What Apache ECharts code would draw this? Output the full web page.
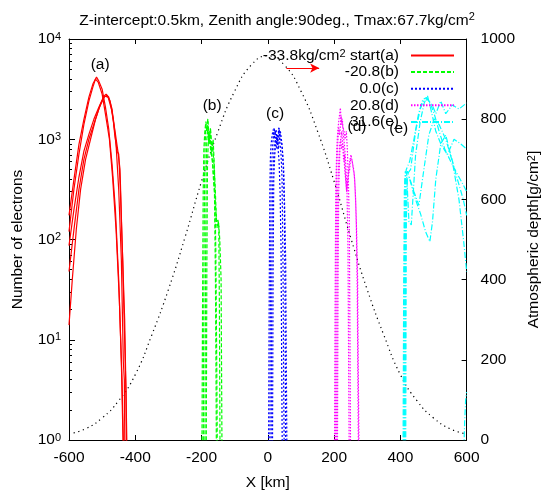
<!DOCTYPE html>
<html><head><meta charset="utf-8">
<script src="https://cdn.jsdelivr.net/npm/echarts@6/dist/echarts.min.js"></script>
<style>html,body{margin:0;padding:0;background:#fff}#c{width:550px;height:496px}</style>
</head><body><div id="c"></div>
<script>
// ---- axes / ticks ----
const xTickInterval = 200;
const depthTickInterval = 200;
const logDecades = [1, 10, 100, 1000, 10000];
const minorMultipliers = [2, 3, 4, 5, 6, 7, 8, 9];

// ---- atmospheric depth (right axis) ----
const depthX =   [-600,-550,-500,-450,-400,-350,-300,-250,-200,-150,-100,-50,0,50,100,150,200,250,300,350,400,450,500,550,600];
const depthVal = [15,28,55,98,163,262,375,505,645,770,870,935,958,935,870,770,645,505,375,262,163,98,55,28,15];

// ---- electrons: start(a), red ----
const redA1 = [[-600,174],[-585,400],[-570,890],[-555,1580],[-540,2630],[-528,3550],[-517,4170],[-510,3800],[-500,3160],[-490,2090],[-480,1260],[-470,560],[-460,200],[-450,40],[-442,6],[-437,1],[-435,0.5]];
const redA2 = [[-600,120],[-585,320],[-570,710],[-555,1410],[-540,2400],[-528,3310],[-520,3980],[-512,3720],[-500,2820],[-490,1780],[-478,1000],[-468,400],[-458,126],[-448,25],[-440,4],[-436,1],[-434,0.5]];
const redA3 = [[-600,87],[-585,200],[-570,420],[-555,760],[-540,1120],[-525,1580],[-510,2090],[-495,2690],[-488,2820],[-480,2630],[-470,2000],[-462,1120],[-455,760],[-450,710],[-445,320],[-438,63],[-432,10],[-428,3],[-426,0.5]];
const redA4 = [[-600,48],[-585,126],[-570,316],[-555,630],[-540,1000],[-525,1410],[-510,2000],[-495,2630],[-485,2750],[-476,2400],[-466,1580],[-458,890],[-450,316],[-442,63],[-436,6],[-433,4],[-431,0.5]];
const redA5 = [[-600,14],[-590,40],[-578,126],[-565,316],[-550,630],[-535,1000],[-520,1580],[-505,2240],[-492,2690],[-482,2630],[-472,2000],[-462,1260],[-452,740],[-446,500],[-440,100],[-432,16],[-428,3],[-424,0.5]];

// ---- -20.8(b), green ----
const greenB1 = [[-199,0.5],[-197,20],[-195,300],[-193,800],[-190,1200],[-187,1500],[-184,1300],[-181,1600],[-177,1000],[-173,1200],[-169,700],[-165,500],[-161,300],[-158,40],[-156,3],[-155,0.5]];
const greenB2 = [[-195,0.5],[-193,30],[-191,400],[-189,900],[-187,1400],[-184,1200],[-181,1500],[-177,900],[-173,1300],[-169,800],[-165,1000],[-161,500],[-157,80],[-154,5],[-152,0.5]];
const greenB3 = [[-190,0.5],[-188,40],[-186,500],[-184,1000],[-181,1300],[-178,900],[-175,1100],[-171,700],[-167,900],[-163,600],[-159,350],[-155,150],[-151,160],[-148,140],[-146,20],[-144,0.5]];
const greenB4 = [[-186,0.5],[-184,50],[-182,600],[-179,1000],[-176,1200],[-173,800],[-170,700],[-167,600],[-164,400],[-161,300],[-157,200],[-153,130],[-149,150],[-145,100],[-141,40],[-138,0.5]];

// ---- 0.0(c), blue ----
const blueC1 = [[2,0.5],[4,20],[6,300],[8,700],[10,900],[13,1100],[16,1250],[19,1000],[22,1200],[25,900],[28,1100],[31,800],[34,600],[37,300],[40,80],[42,5],[44,0.5]];
const blueC2 = [[6,0.5],[8,30],[10,400],[13,700],[16,1000],[19,1300],[22,1100],[25,1250],[28,900],[31,1000],[34,1300],[37,900],[40,700],[43,400],[46,50],[48,3],[50,0.5]];
const blueC3 = [[10,0.5],[12,40],[14,300],[17,600],[20,900],[23,1000],[26,900],[29,1100],[32,800],[35,1000],[38,1200],[41,1000],[44,800],[47,500],[50,200],[52,30],[54,0.5]];
const blueC4 = [[14,0.5],[16,50],[18,400],[21,700],[24,900],[27,800],[30,1000],[33,1300],[36,1100],[39,1000],[42,900],[45,700],[48,500],[51,200],[54,60],[56,5],[58,0.5]];

// ---- 20.8(d), magenta ----
const magD1 = [[201,0.5],[203,20],[205,300],[208,800],[211,1200],[214,1500],[219,2050],[222,1400],[225,1600],[228,1100],[231,900],[235,600],[239,300],[242,80],[244,5],[246,0.5]];
const magD2 = [[204,0.5],[206,50],[208,500],[211,900],[214,1300],[217,1100],[221,1700],[226,1350],[230,1200],[233,1000],[237,1200],[240,800],[243,400],[246,150],[248,10],[250,0.5]];
const magD3 = [[207,0.5],[209,30],[211,300],[214,600],[217,900],[220,1000],[223,1200],[226,900],[229,800],[232,500],[235,400],[238,300],[241,400],[244,500],[247,600],[251,700],[256,680],[259,500],[262,400],[265,250],[268,120],[271,40],[273,5],[275,1],[277,0.5]];
const magD4 = [[210,0.5],[212,40],[214,300],[217,700],[220,1000],[223,800],[226,900],[229,600],[232,700],[235,400],[238,300],[241,350],[244,450],[247,500],[250,650],[255,600],[258,500],[261,450],[264,300],[267,150],[270,30],[272,3],[274,0.5]];

// ---- 31.6(e), cyan ----
const cyanE1 = [[408,0.5],[410,30],[412,300],[415,480],[419,450],[426,150],[433,140],[446,700],[460,1500],[472,2300],[482,2700],[492,2000],[507,1200],[522,900],[542,700],[562,1000],[582,900],[600,800]];
const cyanE2 = [[410,0.5],[412,50],[414,400],[418,500],[428,600],[441,1000],[455,1800],[468,2500],[479,2600],[490,2300],[502,1800],[517,1200],[534,800],[552,600],[572,450],[590,350],[600,300]];
const cyanE3 = [[412,0.5],[414,80],[416,450],[421,480],[433,350],[446,250],[461,180],[476,120],[489,95],[497,150],[507,400],[522,900],[537,1100],[552,700],[572,400],[590,250],[600,174]];
const cyanE4 = [[414,0.5],[416,100],[418,420],[423,460],[431,500],[446,1200],[460,2000],[470,2400],[482,2500],[496,2200],[507,1800],[522,2400],[537,1800],[557,2200],[577,2000],[600,2300]];
const cyanE5 = [[416,0.5],[418,150],[421,400],[427,420],[441,300],[456,220],[471,500],[486,1100],[502,1600],[517,1400],[537,1000],[557,600],[577,250],[592,90],[600,48]];
const cyanE6 = [[590,0.5],[594,1.5],[597,2.5],[600,3]];

// ---- peak labels and arrow annotation ----
const peakLabels = [[-506,5500,'(a)'],[-168,2140,'(b)'],[22,1780,'(c)'],[269,1320,'(d)'],[395,1260,'(e)']];
const arrowFrom = [56,5130];
const arrowTo = [155,5130];

const names = ['start(a)','-20.8(b)','0.0(c)','20.8(d)','31.6(e)'];

const FONT = 'Liberation Sans, Arial, Helvetica, sans-serif';
const FS = 15.5;
const SUP = {fontSize: 11, verticalAlign: 'top', lineHeight: 11, fontFamily: FONT, color: '#000'};

function mk(name, data, color, type, width) {
  return {name, type: 'line', data, symbol: 'none', showSymbol: false, xAxisIndex: 0, yAxisIndex: 0,
    lineStyle: {color, width, type}, itemStyle: {color}, animation: false, silent: true, clip: true, z: 3};
}

const series = [];
[redA1, redA2, redA3, redA4, redA5].forEach(d => series.push(mk(names[0], d, '#ff0000', 'solid', 1.2)));
[greenB1, greenB2, greenB3, greenB4].forEach(d => series.push(mk(names[1], d, '#00ff00', [4, 2], 1.2)));
[blueC1, blueC2, blueC3, blueC4].forEach(d => series.push(mk(names[2], d, '#0000ff', [2, 2], 1.2)));
[magD1, magD2, magD3, magD4].forEach(d => series.push(mk(names[3], d, '#ff00ff', [1.5, 1.5], 1.2)));
[cyanE1, cyanE2, cyanE3, cyanE4, cyanE5, cyanE6].forEach(d => series.push(mk(names[4], d, '#00ffff', [6, 2, 1, 2], 1.2)));

series.push({
  name: 'depth', type: 'line', xAxisIndex: 0, yAxisIndex: 1, smooth: true,
  data: depthX.map((x, i) => [x, depthVal[i]]), symbol: 'none', showSymbol: false,
  lineStyle: {color: '#000', width: 1.2, type: [1.2, 3.6]}, animation: false, silent: true, z: 2
});

series.push({
  name: 'labels', type: 'scatter', xAxisIndex: 0, yAxisIndex: 0, data: peakLabels,
  symbolSize: 1, itemStyle: {color: 'rgba(255,255,255,0)'}, silent: true, animation: false, z: 5,
  label: {show: true, position: 'inside', formatter: p => p.value[2], color: '#000', opacity: 1,
          textBorderWidth: 0, fontSize: FS, fontFamily: FONT},
  markLine: {
    silent: true, animation: false, symbol: ['none', 'arrow'], symbolSize: [7, 9],
    lineStyle: {color: '#ff0000', width: 1, type: 'solid'}, label: {show: false},
    data: [[{coord: arrowFrom}, {coord: arrowTo}]]
  }
});

const minorTicks = [];
logDecades.slice(0, -1).forEach(d => minorMultipliers.forEach(m => minorTicks.push(d * m)));

const axisLineBlack = {show: true, onZero: false, lineStyle: {color: '#000', width: 1}};

const option = {
  backgroundColor: '#fff',
  animation: false,
  textStyle: {fontFamily: FONT},
  title: {
    text: 'Z-intercept:0.5km, Zenith angle:90deg., Tmax:67.7kg/cm{sup|2}',
    left: 272, top: 6, textAlign: 'center',
    textStyle: {fontSize: FS, fontWeight: 'normal', color: '#000', fontFamily: FONT, lineHeight: 19, rich: {sup: SUP}}
  },
  legend: {
    data: names, orient: 'vertical', align: 'right', right: 95, top: 47.5, padding: 0,
    itemWidth: 43, itemHeight: 15, itemGap: 0.6, selectedMode: false,
    itemStyle: {color: 'rgba(0,0,0,0)', borderWidth: 0, opacity: 0},
    formatter: n => n === 'start(a)' ? '-33.8kg/cm{sup|2} start(a)' : n,
    textStyle: {fontSize: FS, color: '#000', fontFamily: FONT, lineHeight: 15, padding: [0, 7, 0, 0], rich: {sup: SUP}}
  },
  grid: {left: 69, right: 77, top: 39, bottom: 53, containLabel: false},
  xAxis: [
    {type: 'value', min: -600, max: 600, interval: xTickInterval, position: 'bottom',
     name: 'X [km]', nameLocation: 'middle', nameGap: 35,
     nameTextStyle: {fontSize: FS, color: '#000', fontFamily: FONT},
     axisLine: axisLineBlack, axisTick: {show: true, inside: true, length: 5, lineStyle: {color: '#000'}},
     axisLabel: {color: '#000', fontSize: FS, margin: 10, fontFamily: FONT},
     splitLine: {show: false}},
    {type: 'value', min: -600, max: 600, interval: xTickInterval, position: 'top',
     axisLine: axisLineBlack, axisTick: {show: true, inside: true, length: 5, lineStyle: {color: '#000'}},
     axisLabel: {show: false}, splitLine: {show: false}}
  ],
  yAxis: [
    {type: 'log', logBase: 10, min: 1, max: 10000, position: 'left',
     name: 'Number of electrons', nameLocation: 'middle', nameGap: 43, nameRotate: 90,
     nameTextStyle: {fontSize: FS, color: '#000', fontFamily: FONT},
     axisLine: axisLineBlack, axisTick: {show: true, inside: true, length: 6, lineStyle: {color: '#000'}},
     axisLabel: {color: '#000', fontSize: FS, margin: 8, fontFamily: FONT,
       formatter: v => '10{sup|' + Math.round(Math.log10(v)) + '}', rich: {sup: SUP}},
     splitLine: {show: false}},
    {type: 'value', min: 0, max: 1000, interval: depthTickInterval, position: 'right',
     name: 'Atmospheric depth[g/cm{sup|2}]', nameLocation: 'middle', nameGap: 57, nameRotate: 90,
     nameTextStyle: {fontSize: FS, color: '#000', fontFamily: FONT, rich: {sup: SUP}},
     axisLine: axisLineBlack, axisTick: {show: true, inside: true, length: 5, lineStyle: {color: '#000'}},
     axisLabel: {color: '#000', fontSize: FS, margin: 14, fontFamily: FONT, formatter: v => String(v)},
     splitLine: {show: false}},
    {type: 'log', logBase: 10, min: 1, max: 10000, position: 'left', offset: 0,
     axisLine: {show: false, onZero: false}, axisLabel: {show: false}, splitLine: {show: false},
     axisTick: {show: true, inside: true, length: 3, lineStyle: {color: '#000'}, customValues: minorTicks}}
  ],
  series
};

const chart = echarts.init(document.getElementById('c'), null, {renderer: 'canvas'});
chart.setOption(option);
</script>
</body></html>
